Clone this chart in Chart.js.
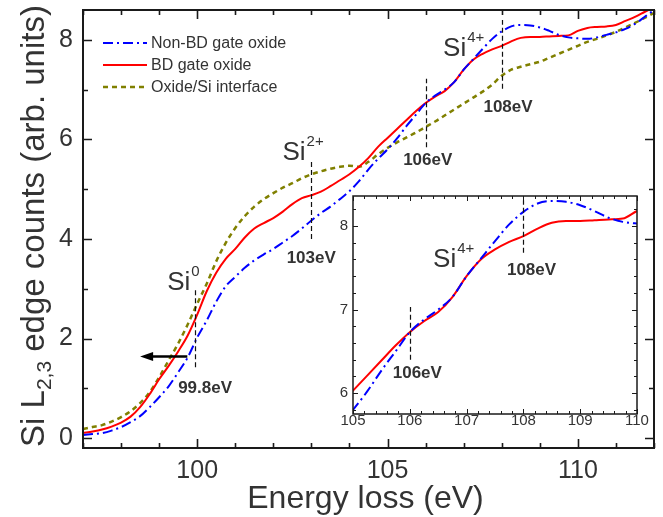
<!DOCTYPE html>
<html>
<head>
<meta charset="utf-8">
<title>Si L2,3 edge</title>
<script src="https://cdn.jsdelivr.net/npm/chart.js@4.4.1/dist/chart.umd.min.js"></script>
<style>
body { margin: 0; background: #fff; }
#wrap { position: relative; width: 663px; height: 517px; }
canvas { position: absolute; }
#main { left: 0; top: 0; }
#inset { left: 320px; top: 186px; }
</style>
</head>
<body>
<div id="wrap">
  <canvas id="main" width="663" height="517"></canvas>
  <canvas id="inset" width="340" height="256"></canvas>
</div>
<script>
// energy loss (eV)
const energy = [97, 97.25, 97.5, 97.75, 98, 98.25, 98.5, 98.75, 99, 99.25,
  99.5, 99.75, 100, 100.25, 100.5, 100.75, 101, 101.25, 101.5, 101.75,
  102, 102.25, 102.5, 102.75, 103, 103.25, 103.5, 103.75, 104, 104.25,
  104.5, 104.75, 105, 105.25, 105.5, 105.75, 106, 106.25, 106.5, 106.75,
  107, 107.25, 107.5, 107.75, 108, 108.25, 108.5, 108.75, 109, 109.25,
  109.5, 109.75, 110, 110.25, 110.5, 110.75, 111, 111.25, 111.5, 111.75, 112];

const nonBD = [0.06, 0.08, 0.10, 0.15, 0.22, 0.32, 0.44, 0.62, 0.82, 1.04,
  1.32, 1.62, 2.02, 2.36, 2.74, 3.05, 3.24, 3.42, 3.57, 3.69,
  3.80, 3.93, 4.06, 4.21, 4.37, 4.52, 4.65, 4.80, 4.96, 5.16,
  5.40, 5.61, 5.80, 6.02, 6.27, 6.50, 6.73, 6.88, 7.00, 7.15,
  7.40, 7.61, 7.82, 8.02, 8.17, 8.27, 8.30, 8.29, 8.25, 8.18,
  8.10, 8.05, 8.03, 8.02, 8.05, 8.10, 8.15, 8.22, 8.32, 8.46, 8.60];

const bdOxide = [0.10, 0.13, 0.17, 0.23, 0.31, 0.43, 0.62, 0.88, 1.18, 1.45,
  1.74, 2.06, 2.48, 2.95, 3.32, 3.60, 3.80, 4.03, 4.21, 4.32,
  4.42, 4.55, 4.70, 4.82, 4.88, 4.95, 5.06, 5.18, 5.30, 5.45,
  5.63, 5.85, 6.03, 6.21, 6.39, 6.57, 6.73, 6.86, 6.97, 7.15,
  7.40, 7.60, 7.72, 7.81, 7.88, 7.97, 8.04, 8.06, 8.06, 8.07,
  8.08, 8.09, 8.18, 8.24, 8.26, 8.27, 8.30, 8.38, 8.46, 8.56, 8.66];

const interfaceSi = [0.18, 0.22, 0.26, 0.33, 0.42, 0.54, 0.70, 0.92, 1.22, 1.56,
  1.90, 2.28, 2.70, 3.10, 3.55, 3.92, 4.22, 4.46, 4.65, 4.80,
  4.92, 5.03, 5.12, 5.22, 5.30, 5.36, 5.41, 5.45, 5.47, 5.45,
  5.55, 5.70, 5.83, 5.94, 6.04, 6.14, 6.25, 6.36, 6.48, 6.60,
  6.72, 6.84, 6.96, 7.10, 7.28, 7.40, 7.46, 7.51, 7.56, 7.64,
  7.72, 7.80, 7.88, 7.96, 8.02, 8.09, 8.16, 8.25, 8.34, 8.44, 8.54];

// tick labels
const mainXTicks = [100, 105, 110];
const mainYTicks = [0, 2, 4, 6, 8];
const insetXTicks = [105, 106, 107, 108, 109, 110];
const insetYTicks = [6, 7, 8];

// dashed marker lines: [energy, y from, y to]
const mainMarks = [[99.93, 1.42, 3.02], [103, 4.0, 5.56], [106, 5.84, 7.22], [108, 7.02, 8.4]];
const insetMarks = [[106, 6.4, 7.03], [108, 7.68, 8.31]];
// labels: [text, superscript, x, y]
const mainLabels = [
  ['Si', '0', 99.21, 2.98],
  ['Si', '2+', 102.24, 5.58],
  ['Si', '4+', 106.46, 7.68],
  ['99.8eV', '', 99.5, 0.9],
  ['103eV', '', 102.35, 3.52],
  ['106eV', '', 105.41, 5.48],
  ['108eV', '', 107.52, 6.56]
];
const insetLabels = [
  ['Si', '4+', 106.41, 7.51],
  ['106eV', '', 105.7, 6.18],
  ['108eV', '', 107.71, 7.41]
];
const shiftArrow = { from: 99.74, to: 98.5, y: 1.64 };

const FONT = '"Liberation Sans", Arial, Helvetica, sans-serif';
const TXT = '#333';
const AX = '#1a1a1a';

Chart.defaults.font.family = FONT;
Chart.defaults.color = TXT;

function pts(vals) {
  return energy.map((e, i) => ({ x: e, y: vals[i] }));
}

function fixTicks(list) {
  return s => { s.ticks = list.map(v => ({ value: v })); };
}

// fixed axis size, no extra label padding pushed into the layout
function fitAxis(size) {
  return s => {
    if (s.isHorizontal()) s.height = size; else s.width = size;
    s.paddingTop = 0; s.paddingBottom = 0; s.paddingLeft = 0; s.paddingRight = 0;
  };
}

function series() {
  return [
    { label: 'Non-BD gate oxide', data: pts(nonBD), borderColor: '#0000ff', borderWidth: 2, borderDash: [10, 4, 2, 4] },
    { label: 'BD gate oxide', data: pts(bdOxide), borderColor: '#ff0000', borderWidth: 2 },
    { label: 'Oxide/Si interface', data: pts(interfaceSi), borderColor: '#808000', borderWidth: 2.5, borderDash: [5, 4] }
  ];
}

// frame with inward ticks on all four sides
function frame(chart, c) {
  const { ctx, chartArea: a, scales: { x, y } } = chart;
  ctx.save();
  ctx.strokeStyle = AX;
  ctx.lineWidth = c.lw;
  ctx.setLineDash([]);
  ctx.strokeRect(a.left, a.top, a.right - a.left, a.bottom - a.top);
  ctx.beginPath();
  for (let i = 0; ; i++) {
    const v = c.x0 + i * c.xs;
    if (v > c.x1 + 1e-6) break;
    const major = Math.abs(v / c.xm - Math.round(v / c.xm)) < 1e-6;
    const len = major ? c.maj : c.min;
    const p = Math.round(x.getPixelForValue(v)) + 0.5;
    ctx.moveTo(p, a.bottom); ctx.lineTo(p, a.bottom - len);
    ctx.moveTo(p, a.top); ctx.lineTo(p, a.top + len);
  }
  for (let i = 0; ; i++) {
    const v = c.y0 + i * c.ys;
    if (v > c.y1 + 1e-6) break;
    const major = Math.abs(v / c.ym - Math.round(v / c.ym)) < 1e-6;
    const len = major ? c.maj : c.min;
    const p = Math.round(y.getPixelForValue(v)) + 0.5;
    ctx.moveTo(a.left, p); ctx.lineTo(a.left + len, p);
    ctx.moveTo(a.right, p); ctx.lineTo(a.right - len, p);
  }
  ctx.lineWidth = c.tw;
  ctx.stroke();
  ctx.restore();
}

function marks(chart, list) {
  const { ctx, scales: { x, y } } = chart;
  ctx.save();
  ctx.strokeStyle = '#111';
  ctx.lineWidth = 1.2;
  ctx.setLineDash([5, 3]);
  list.forEach(m => {
    const px = Math.round(x.getPixelForValue(m[0])) + 0.5;
    ctx.beginPath();
    ctx.moveTo(px, y.getPixelForValue(m[1]));
    ctx.lineTo(px, y.getPixelForValue(m[2]));
    ctx.stroke();
  });
  ctx.restore();
}

function labels(chart, list) {
  const { ctx, scales: { x, y } } = chart;
  ctx.save();
  ctx.fillStyle = TXT;
  ctx.textAlign = 'left';
  ctx.textBaseline = 'alphabetic';
  list.forEach(l => {
    const px = x.getPixelForValue(l[2]);
    const py = y.getPixelForValue(l[3]);
    if (l[1] === '') {
      ctx.font = 'bold 17px ' + FONT;
      ctx.fillText(l[0], px, py);
    } else {
      ctx.font = '26px ' + FONT;
      ctx.fillText(l[0], px, py);
      const w = ctx.measureText(l[0]).width;
      ctx.font = '15px ' + FONT;
      ctx.fillText(l[1], px + w + 1, py - 14);
    }
  });
  ctx.restore();
}

const mainDecor = {
  id: 'mainDecor',
  afterDatasetsDraw(chart) {
    const { ctx, chartArea: a, scales: { x, y } } = chart;
    frame(chart, { x0: 97, x1: 112, xs: 1, xm: 5, y0: 0, y1: 8, ys: 1, ym: 2, maj: 9, min: 5, lw: 2, tw: 1.6 });
    marks(chart, mainMarks);
    labels(chart, mainLabels);

    // shift arrow
    ctx.save();
    const ay = y.getPixelForValue(shiftArrow.y);
    const ax0 = x.getPixelForValue(shiftArrow.from);
    const ax1 = x.getPixelForValue(shiftArrow.to);
    ctx.strokeStyle = '#000';
    ctx.fillStyle = '#000';
    ctx.lineWidth = 2.5;
    ctx.beginPath();
    ctx.moveTo(ax0, ay); ctx.lineTo(ax1 + 10, ay);
    ctx.stroke();
    ctx.beginPath();
    ctx.moveTo(ax1, ay); ctx.lineTo(ax1 + 13, ay - 4.5); ctx.lineTo(ax1 + 13, ay + 4.5);
    ctx.closePath();
    ctx.fill();
    ctx.restore();

    // legend
    ctx.save();
    chart.data.datasets.forEach((ds, i) => {
      const yy = a.top + 33 + i * 22;
      ctx.strokeStyle = ds.borderColor;
      ctx.lineWidth = ds.borderWidth;
      ctx.setLineDash(ds.borderDash || []);
      ctx.beginPath();
      ctx.moveTo(a.left + 20, yy); ctx.lineTo(a.left + 64, yy);
      ctx.stroke();
      ctx.setLineDash([]);
      ctx.fillStyle = TXT;
      ctx.font = '16px ' + FONT;
      ctx.textAlign = 'left';
      ctx.textBaseline = 'middle';
      ctx.fillText(ds.label, a.left + 68, yy + 1);
    });
    ctx.restore();

    // axis titles
    ctx.save();
    ctx.fillStyle = TXT;
    ctx.textBaseline = 'alphabetic';
    ctx.textAlign = 'center';
    ctx.font = '32px ' + FONT;
    ctx.fillText('Energy loss (eV)', (a.left + a.right) / 2 - 3, 508);

    ctx.translate(44, (a.top + a.bottom) / 2 - 3);
    ctx.rotate(-Math.PI / 2);
    ctx.textAlign = 'left';
    const big = '33px ' + FONT, small = '21px ' + FONT;
    const parts = [['Si L', big, 0], ['2,3', small, 7], [' edge counts (arb. units)', big, 0]];
    let total = 0;
    parts.forEach(p => { ctx.font = p[1]; total += ctx.measureText(p[0]).width; });
    let cx = -total / 2;
    parts.forEach(p => {
      ctx.font = p[1];
      ctx.fillText(p[0], cx, p[2]);
      cx += ctx.measureText(p[0]).width;
    });
    ctx.restore();
  }
};

new Chart(document.getElementById('main'), {
  type: 'line',
  data: { datasets: series() },
  options: {
    responsive: false,
    animation: false,
    elements: { point: { radius: 0 }, line: { cubicInterpolationMode: 'monotone', fill: false } },
    layout: { padding: { top: 10, right: 9, left: 0, bottom: 0 } },
    plugins: { legend: { display: false }, tooltip: { enabled: false } },
    scales: {
      x: {
        type: 'linear', min: 97, max: 112,
        grid: { display: false, drawTicks: false }, border: { display: false },
        ticks: { font: { size: 25 }, padding: 8, color: TXT, maxRotation: 0, autoSkip: false },
        afterBuildTicks: fixTicks(mainXTicks),
        afterFit: fitAxis(69)
      },
      y: {
        type: 'linear', min: -0.2, max: 8.6,
        grid: { display: false, drawTicks: false }, border: { display: false },
        ticks: { font: { size: 25 }, padding: 10, color: TXT, autoSkip: false },
        afterBuildTicks: fixTicks(mainYTicks),
        afterFit: fitAxis(83)
      }
    }
  },
  plugins: [mainDecor]
});

const insetDecor = {
  id: 'insetDecor',
  beforeDraw(chart) {
    const { ctx, chartArea: a } = chart;
    ctx.save();
    ctx.fillStyle = '#fff';
    ctx.fillRect(a.left, a.top, a.right - a.left, a.bottom - a.top);
    ctx.restore();
  },
  afterDatasetsDraw(chart) {
    frame(chart, { x0: 105, x1: 110, xs: 0.2, xm: 1, y0: 5.8, y1: 8.2, ys: 0.2, ym: 1, maj: 5, min: 3, lw: 1.5, tw: 1 });
    marks(chart, insetMarks);
    labels(chart, insetLabels);
  }
};

const insetSets = series().slice(0, 2);
new Chart(document.getElementById('inset'), {
  type: 'line',
  data: { datasets: insetSets },
  options: {
    responsive: false,
    animation: false,
    elements: { point: { radius: 0 }, line: { cubicInterpolationMode: 'monotone', fill: false } },
    layout: { padding: { top: 10, right: 23, left: 0, bottom: 0 } },
    plugins: { legend: { display: false }, tooltip: { enabled: false } },
    scales: {
      x: {
        type: 'linear', min: 105, max: 110,
        grid: { display: false, drawTicks: false }, border: { display: false },
        ticks: { font: { size: 15 }, padding: -2, color: TXT, maxRotation: 0, autoSkip: false },
        afterBuildTicks: fixTicks(insetXTicks),
        afterFit: fitAxis(28)
      },
      y: {
        type: 'linear', min: 5.75, max: 8.36,
        grid: { display: false, drawTicks: false }, border: { display: false },
        ticks: { font: { size: 15 }, padding: 5, color: TXT, autoSkip: false },
        afterBuildTicks: fixTicks(insetYTicks),
        afterFit: fitAxis(33)
      }
    }
  },
  plugins: [insetDecor]
});
</script>
</body>
</html>
